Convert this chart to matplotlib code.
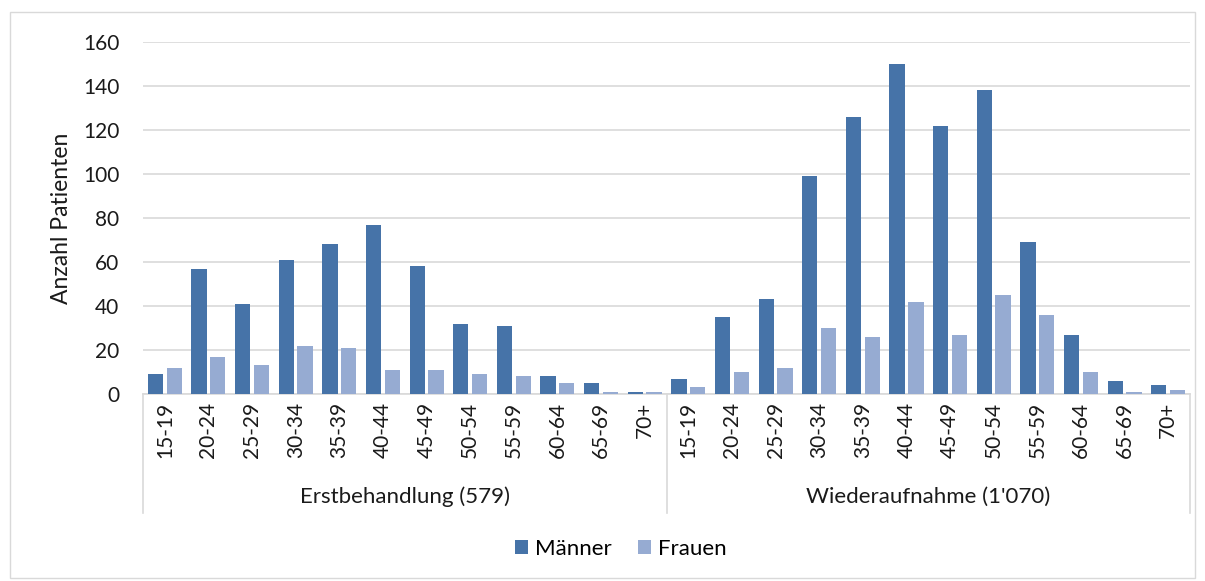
import matplotlib

matplotlib.use("Agg")

import matplotlib.pyplot as plt
import numpy as np
from matplotlib.patches import Rectangle
from matplotlib.transforms import blended_transform_factory

plt.rcParams["font.family"] = ["Lato", "DejaVu Sans"]

AGE_GROUPS = ["15-19", "20-24", "25-29", "30-34", "35-39", "40-44",
              "45-49", "50-54", "55-59", "60-64", "65-69", "70+"]
GROUPS = ["Erstbehandlung (579)", "Wiederaufnahme (1'070)"]

MEN_FIRST = [9, 57, 41, 61, 68, 77, 58, 32, 31, 8, 5, 1]
WOMEN_FIRST = [12, 17, 13, 22, 21, 11, 11, 9, 8, 5, 1, 1]
MEN_READMIT = [7, 35, 43, 99, 126, 150, 122, 138, 69, 27, 6, 4]
WOMEN_READMIT = [3, 10, 12, 30, 26, 42, 27, 45, 36, 10, 1, 2]

MEN_COLOR = "#4673a8"
WOMEN_COLOR = "#96abd2"
GRID_COLOR = "#d9d9d9"
TEXT_COLOR = "#1a1a1a"

men = np.array(MEN_FIRST + MEN_READMIT)
women = np.array(WOMEN_FIRST + WOMEN_READMIT)
labels = AGE_GROUPS + AGE_GROUPS
x = np.arange(len(labels))

fig = plt.figure(figsize=(12.05, 5.81), dpi=100)
ax = fig.add_axes([0.1187, 0.3219, 0.8689, 0.6058])

width = 0.35
ax.bar(x - 0.215, men, width, color=MEN_COLOR, label="Männer", zorder=3)
ax.bar(x + 0.215, women, width, color=WOMEN_COLOR, label="Frauen", zorder=3)

ax.set_xlim(-0.5, len(labels) - 0.5)
ax.set_ylim(0, 160)
ax.set_yticks(np.arange(0, 161, 20))
ax.yaxis.grid(True, color=GRID_COLOR, linewidth=1.2, zorder=0)
ax.set_axisbelow(True)
ax.tick_params(axis="y", length=0, labelsize=15, colors=TEXT_COLOR, pad=17)
ax.set_xticks([])
for name in ("top", "right", "left"):
    ax.spines[name].set_visible(False)
ax.spines["bottom"].set_color(GRID_COLOR)
ax.spines["bottom"].set_linewidth(1.2)

ax.set_ylabel("Anzahl Patienten", fontsize=16.5, color=TEXT_COLOR, labelpad=8)

trans = blended_transform_factory(ax.transData, ax.transAxes)
for i, lab in enumerate(labels):
    ax.text(i, -0.022, lab, transform=trans, rotation=90, ha="center", va="top",
            fontsize=15, color=TEXT_COLOR)

n = len(AGE_GROUPS)
for sep in (-0.5, n - 0.5, 2 * n - 0.5):
    ax.plot([sep, sep], [0, -0.338], transform=trans, color=GRID_COLOR,
            linewidth=1.2, clip_on=False)
for k, name in enumerate(GROUPS):
    ax.text(k * n + (n - 1) / 2, -0.293, name, transform=trans, ha="center",
            va="center", fontsize=16, color=TEXT_COLOR)

ax.legend(loc="center", bbox_to_anchor=(0.515, 0.055), bbox_transform=fig.transFigure,
          ncol=2, frameon=False, fontsize=16, handlelength=0.6, handleheight=0.6,
          handletextpad=0.3, columnspacing=1.2)

fig.patches.append(Rectangle((10 / 1205, 3 / 581), 1185 / 1205, 566 / 581,
                             transform=fig.transFigure, fill=False,
                             edgecolor=GRID_COLOR, linewidth=1.0))

fig.savefig("out.png", dpi=100, facecolor="white")
